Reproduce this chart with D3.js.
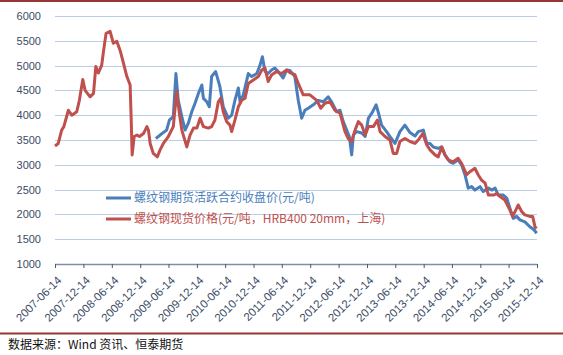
<!DOCTYPE html>
<html><head><meta charset="utf-8">
<script src="https://cdn.jsdelivr.net/npm/d3@7"></script>
<style>
html,body{margin:0;padding:0;background:#fff;}
svg{display:block;}
</style></head>
<body>
<svg id="c" width="563" height="355"></svg>
<script>
// ---- data ----
const xTickLabels = ["2007-06-14","2007-12-14","2008-06-14","2008-12-14","2009-06-14","2009-12-14","2010-06-14","2010-12-14","2011-06-14","2011-12-14","2012-06-14","2012-12-14","2013-06-14","2013-12-14","2014-06-14","2014-12-14","2015-06-14","2015-12-14"];
const yTicks = [1000,1500,2000,2500,3000,3500,4000,4500,5000,5500,6000];
const seriesNames = ["螺纹钢期货活跃合约收盘价(元/吨)","螺纹钢现货价格(元/吨，HRB400 20mm，上海)"];
const sourceText = "数据来源：Wind 资讯、恒泰期货";

// 螺纹钢期货活跃合约收盘价
const futuresDates = ["2009-03-25","2009-04-21","2009-06-02","2009-06-20","2009-07-15","2009-08-01","2009-08-16","2009-09-08","2009-09-29","2009-10-20","2009-11-11","2009-12-02","2009-12-24","2010-01-15","2010-01-25","2010-02-16","2010-03-04","2010-03-19","2010-04-14","2010-05-11","2010-06-02","2010-07-04","2010-07-26","2010-08-16","2010-09-07","2010-09-18","2010-10-09","2010-11-10","2010-12-02","2011-01-04","2011-01-25","2011-02-09","2011-02-26","2011-03-18","2011-04-09","2011-04-30","2011-05-22","2011-06-23","2011-07-15","2011-08-05","2011-09-06","2011-09-28","2011-10-20","2011-11-10","2011-12-01","2012-01-03","2012-02-04","2012-03-07","2012-04-08","2012-04-30","2012-06-01","2012-06-23","2012-07-14","2012-08-05","2012-08-22","2012-09-06","2012-09-17","2012-10-09","2012-11-10","2012-12-02","2012-12-23","2013-01-14","2013-02-11","2013-02-26","2013-03-18","2013-04-19","2013-05-11","2013-06-12","2013-07-14","2013-08-15","2013-09-17","2013-10-19","2013-11-09","2013-12-12","2014-01-03","2014-01-24","2014-02-14","2014-03-18","2014-04-09","2014-04-30","2014-06-01","2014-06-22","2014-07-24","2014-08-15","2014-09-06","2014-09-27","2014-10-19","2014-11-09","2014-12-12","2015-01-02","2015-02-04","2015-02-26","2015-03-19","2015-04-09","2015-05-11","2015-06-02","2015-06-22","2015-07-14","2015-08-05","2015-08-26","2015-09-27","2015-10-29","2015-11-25","2015-12-12"];
const futuresValues = [3530,3600,3700,3900,3970,4840,4300,3970,3700,3840,4070,4240,4440,4610,4340,4270,4170,4780,4880,4580,4170,3940,4000,4300,4550,4270,4410,4840,4780,4840,5010,5180,4880,4840,4910,4950,4880,4750,4910,4900,4780,4300,3940,4100,4140,4210,4300,4270,4370,4270,4070,4100,3870,3700,3570,3200,3600,3670,3640,3570,3940,4040,4210,4040,3800,3670,3570,3430,3670,3800,3650,3580,3670,3700,3430,3430,3360,3330,3360,3200,3060,3030,3100,3000,2800,2530,2560,2490,2560,2460,2530,2490,2530,2390,2390,2330,2130,1920,1960,1890,1850,1750,1690,1620];

// 螺纹钢现货价格
const spotDates = ["2007-06-14","2007-07-05","2007-07-27","2007-08-10","2007-09-08","2007-09-30","2007-11-01","2007-11-18","2007-12-10","2007-12-25","2008-01-26","2008-02-17","2008-03-03","2008-03-19","2008-04-10","2008-04-21","2008-05-08","2008-06-03","2008-06-24","2008-07-16","2008-08-06","2008-08-28","2008-09-19","2008-10-10","2008-10-17","2008-10-23","2008-11-05","2008-11-23","2008-12-09","2009-01-04","2009-01-26","2009-02-05","2009-02-16","2009-03-08","2009-04-03","2009-04-21","2009-05-12","2009-06-13","2009-07-15","2009-08-06","2009-08-23","2009-09-08","2009-10-10","2009-10-31","2009-11-22","2009-12-14","2010-01-04","2010-01-25","2010-02-26","2010-03-19","2010-04-09","2010-05-01","2010-05-16","2010-06-02","2010-06-24","2010-07-15","2010-07-26","2010-08-16","2010-09-07","2010-09-29","2010-10-20","2010-11-10","2010-12-13","2011-01-14","2011-02-05","2011-02-26","2011-03-18","2011-04-09","2011-05-11","2011-06-13","2011-07-15","2011-08-05","2011-09-06","2011-09-28","2011-10-30","2011-12-12","2012-01-25","2012-02-20","2012-03-18","2012-04-19","2012-05-21","2012-06-23","2012-07-25","2012-08-15","2012-09-06","2012-09-28","2012-10-19","2012-11-10","2012-12-02","2012-12-23","2013-01-24","2013-02-19","2013-03-08","2013-04-09","2013-05-11","2013-06-01","2013-06-23","2013-07-14","2013-08-15","2013-09-17","2013-10-19","2013-11-09","2013-12-08","2014-01-03","2014-01-24","2014-02-25","2014-03-18","2014-04-09","2014-04-30","2014-05-21","2014-06-22","2014-07-24","2014-08-15","2014-09-17","2014-10-08","2014-11-09","2014-11-30","2014-12-22","2015-01-14","2015-02-04","2015-03-08","2015-03-30","2015-04-20","2015-05-21","2015-06-22","2015-07-10","2015-07-31","2015-08-15","2015-09-06","2015-09-27","2015-10-29","2015-11-16","2015-12-01","2015-12-12"];
const spotValues = [3380,3430,3700,3770,4100,4000,4070,4300,4720,4500,4370,4440,4980,4850,5010,5280,5650,5690,5450,5490,5310,5050,4780,4610,3900,3200,3570,3600,3570,3630,3770,3700,3430,3230,3160,3300,3430,3570,3770,4480,4040,3700,3360,3600,3740,3740,3940,3770,3740,3770,3900,4270,4340,4070,3870,3800,3670,3900,4170,4300,4340,4640,4710,4780,4910,4950,4680,4810,4880,4840,4910,4860,4820,4640,4410,4410,4300,4140,4240,4270,4100,4040,3670,3530,3470,3700,3870,3800,3600,3770,3770,3900,3670,3570,3500,3230,3230,3470,3530,3470,3430,3500,3630,3400,3300,3200,3160,3360,3200,3100,3060,3130,3030,2800,2860,2930,2800,2690,2630,2390,2390,2420,2360,2290,2090,1960,2090,2190,2060,1990,1960,1960,1750,1720];

// ---- chart ----
const parse = d3.timeParse("%Y-%m-%d");
const svg = d3.select("#c");
const W = 563, H = 355;
const plot = {left:55, right:537, top:16, bottom:264};

const x = d3.scaleTime()
  .domain([parse(xTickLabels[0]), parse(xTickLabels[xTickLabels.length-1])])
  .range([plot.left, plot.right]);
const y = d3.scaleLinear().domain([1000,6000]).range([plot.bottom, plot.top]);

// borders
const borderColor = "#953735";
svg.append("line").attr("x1",0).attr("x2",W).attr("y1",1).attr("y2",1)
  .attr("stroke",borderColor).attr("stroke-width",2);
svg.append("line").attr("x1",0).attr("x2",W).attr("y1",333.5).attr("y2",333.5)
  .attr("stroke",borderColor).attr("stroke-width",2);

// gridlines
svg.append("g").selectAll("line").data(yTicks.filter(v=>v>1000)).join("line")
  .attr("x1",plot.left).attr("x2",plot.right)
  .attr("y1",d=>Math.round(y(d))+0.5).attr("y2",d=>Math.round(y(d))+0.5)
  .attr("stroke","#B9CDE5").attr("stroke-width",1);

// y axis labels
const yAxis = d3.axisLeft(y).tickValues(yTicks).tickSize(0).tickPadding(14).tickFormat(d3.format("d"));
const gy = svg.append("g").attr("transform",`translate(${plot.left},0)`).call(yAxis);
gy.select(".domain").remove();
gy.selectAll("text").attr("font-family","Liberation Sans, Arial, sans-serif").attr("font-size",11).attr("fill","#3B4C66");

// x axis
const xAxis = d3.axisBottom(x).tickValues(xTickLabels.map(parse)).tickSize(4).tickFormat(d3.timeFormat("%Y-%m-%d"));
const gx = svg.append("g").attr("transform",`translate(0,${plot.bottom})`).call(xAxis);
gx.select(".domain").attr("stroke","#7F8DA6").attr("stroke-width",1.5).attr("d",`M${plot.left},0.5H${plot.right}`);
gx.selectAll(".tick line").attr("stroke","#4A5A75").attr("stroke-width",1);
gx.selectAll("text")
  .attr("font-family","Liberation Sans, Arial, sans-serif").attr("font-size",11.5).attr("fill","#3B4C66")
  .attr("text-anchor","end")
  .attr("dy","0.35em")
  .attr("transform","translate(4,14) rotate(-45)")
  .attr("y",0).attr("x",0);

// lines
const line = d3.line().x(d=>x(d[0])).y(d=>y(d[1])).curve(d3.curveLinear);
const fut = futuresDates.map((d,i)=>[parse(d),futuresValues[i]]);
const spot = spotDates.map((d,i)=>[parse(d),spotValues[i]]);
const blue = "#4A7EBB", red = "#C0504D";
svg.append("path").datum(fut).attr("d",line).attr("fill","none")
  .attr("stroke",blue).attr("stroke-width",3).attr("stroke-linejoin","round");
svg.append("path").datum(spot).attr("d",line).attr("fill","none")
  .attr("stroke",red).attr("stroke-width",3).attr("stroke-linejoin","round");

// legend
const legend = svg.append("g");
[[blue,198],[red,219]].forEach(([c,yy],i)=>{
  legend.append("line").attr("x1",106).attr("x2",131).attr("y1",yy).attr("y2",yy)
    .attr("stroke",c).attr("stroke-width",3);
  legend.append("text").attr("x",134).attr("y",yy).attr("dy","0.36em")
    .attr("font-family","Noto Sans CJK SC, sans-serif").attr("font-size",12)
    .attr("fill",c).text(seriesNames[i]);
});

// source
svg.append("text").attr("x",8).attr("y",349)
  .attr("font-family","Noto Sans CJK SC, sans-serif").attr("font-size",12)
  .attr("fill","#111").text(sourceText);
</script>
</body></html>
